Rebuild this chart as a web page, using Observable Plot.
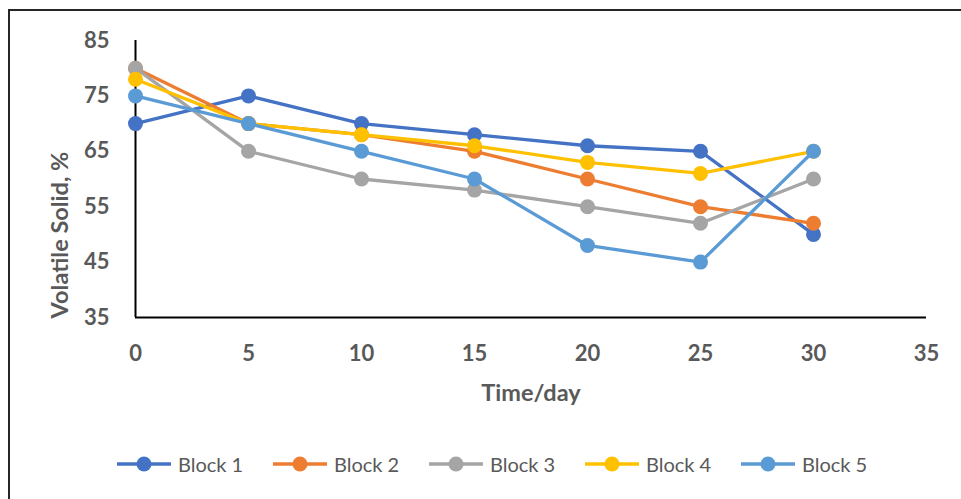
<!DOCTYPE html>
<html>
<head>
<meta charset="utf-8">
<script src="https://cdn.jsdelivr.net/npm/d3@7"></script>
<script src="https://cdn.jsdelivr.net/npm/@observablehq/plot@0.6"></script>
<style>
  html, body { margin: 0; padding: 0; background: #fff; overflow: hidden; }
  #wrap { position: relative; width: 961px; height: 499px; overflow: hidden; font-family: Lato, "Open Sans", sans-serif; }
  #border { position: absolute; left: 8px; top: 9px; width: 1000px; height: 600px; border-top: 2px solid #262626; border-left: 2px solid #262626; }
  #chart { position: absolute; left: 0; top: 0; }
  #legend { position: absolute; left: 117px; top: 452px; display: flex; gap: 0; }
  .item { display: flex; align-items: center; width: 156px; }
  .item span { font-size: 20px; color: #595959; margin-left: 7px; }
</style>
</head>
<body>
<div id="wrap">
  <div id="border"></div>
  <div id="chart"></div>
  <div id="legend"></div>
</div>
<script>
// Sampling days
const days = [0, 5, 10, 15, 20, 25, 30];

// Volatile solid content (%) per block
const block1 = [70, 75, 70, 68, 66, 65, 50];
const block2 = [80, 70, 68, 65, 60, 55, 52];
const block3 = [80, 65, 60, 58, 55, 52, 60];
const block4 = [78, 70, 68, 66, 63, 61, 65];
const block5 = [75, 70, 65, 60, 48, 45, 65];

const seriesNames = ["Block 1", "Block 2", "Block 3", "Block 4", "Block 5"];
const seriesValues = [block1, block2, block3, block4, block5];
const colors = ["#4472C4", "#ED7D31", "#A5A5A5", "#FFC000", "#5B9BD5"];

const xTicks = [0, 5, 10, 15, 20, 25, 30, 35];
const yTicks = [35, 45, 55, 65, 75, 85];

const series = seriesNames.map((name, i) =>
  days.map((d, j) => ({series: name, day: d, value: seriesValues[i][j]}))
);

const textColor = "#595959";

// each block draws its line and then its markers, in series order
const seriesMarks = series.flatMap((rows, i) => [
  Plot.line(rows, {x: "day", y: "value", stroke: colors[i], strokeWidth: 3.3}),
  Plot.dot(rows, {x: "day", y: "value", r: 7.5, fill: colors[i], stroke: "none"})
]);

const chart = Plot.plot({
  width: 961,
  height: 440,
  marginLeft: 135,
  marginRight: 35,
  marginTop: 40,
  marginBottom: 123,
  style: {fontFamily: "Lato, 'Open Sans', sans-serif", background: "transparent"},
  x: {domain: [0, 35]},
  y: {domain: [35, 85]},
  marks: [
    Plot.axisX({ticks: xTicks, tickSize: 0, tickPadding: 28, label: null,
      fontSize: 22, fontWeight: "bold", fill: textColor}),
    Plot.axisY({ticks: yTicks, tickSize: 0, tickPadding: 26, label: null,
      fontSize: 22, fontWeight: "bold", fill: textColor}),
    Plot.ruleX([0], {stroke: "#000", strokeWidth: 2}),
    Plot.ruleY([35], {stroke: "#000", strokeWidth: 2}),
    Plot.text(["Time/day"], {frameAnchor: "bottom", dy: 76, lineAnchor: "middle", textAnchor: "middle",
      fontSize: 23.5, fontWeight: "bold", fill: textColor}),
    Plot.text(["Volatile Solid, %"], {frameAnchor: "left", rotate: -90, dx: -75, dy: 56,
      lineAnchor: "middle", textAnchor: "middle", fontSize: 23.5, fontWeight: "bold", fill: textColor}),
    ...seriesMarks
  ]
});
document.getElementById("chart").appendChild(chart);

// legend: line-with-marker swatch and series name
const legend = d3.select("#legend");
seriesNames.forEach((name, i) => {
  const item = legend.append("div").attr("class", "item");
  const sw = item.append("svg").attr("width", 54).attr("height", 20);
  sw.append("line").attr("x1", 0).attr("x2", 54).attr("y1", 10).attr("y2", 10)
    .attr("stroke", colors[i]).attr("stroke-width", 3.3);
  sw.append("circle").attr("cx", 27).attr("cy", 10).attr("r", 7.5).attr("fill", colors[i]);
  item.append("span").text(name);
});
</script>
</body>
</html>
